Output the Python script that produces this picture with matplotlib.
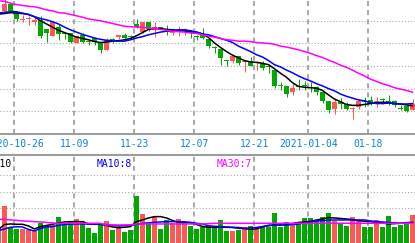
import matplotlib
matplotlib.use('Agg')
import matplotlib.pyplot as plt
import matplotlib.transforms as mtransforms
import numpy as np
import pandas as pd

################################################################################
# data
dates = pd.bdate_range('2020-10-21', '2021-01-27').drop(pd.Timestamp('2021-01-01'))
label_dates = ['2020-10-26', '2020-11-09', '2020-11-23', '2020-12-07',
               '2020-12-21', '2021-01-04', '2021-01-18']

open_ = [12.62, 12.72, 12.87, 12.70, 12.52, 12.54, 12.48, 12.52, 12.32, 12.17,
         12.37, 12.23, 12.22, 12.02, 12.19, 12.05, 12.13, 12.00, 11.85, 12.10,
         12.15, 12.19, 12.15, 12.43, 12.26, 12.48, 12.30, 12.35, 12.26, 12.22,
         12.28, 12.26, 12.27, 12.15, 12.20, 12.09, 11.91, 11.87, 11.63, 11.62,
         11.72, 11.59, 11.60, 11.57, 11.56, 11.49, 11.41, 11.07, 11.06, 10.93,
         11.05, 11.07, 11.04, 11.03, 10.93, 10.73, 10.54, 10.71, 10.67, 10.56,
         10.59, 10.72, 10.75, 10.66, 10.76, 10.73, 10.73, 10.57, 10.62, 10.53]
close = [12.70, 12.87, 12.72, 12.55, 12.54, 12.57, 12.52, 12.17, 12.24, 12.47,
         12.20, 12.21, 12.04, 12.16, 12.04, 12.03, 12.04, 11.85, 12.08, 12.08,
         12.19, 12.11, 12.14, 12.36, 12.48, 12.31, 12.36, 12.33, 12.25, 12.30,
         12.30, 12.32, 12.22, 12.14, 12.11, 11.94, 11.90, 11.67, 11.62, 11.72,
         11.56, 11.60, 11.51, 11.58, 11.46, 11.48, 11.06, 11.06, 10.88, 11.02,
         11.04, 11.06, 11.03, 10.92, 10.73, 10.53, 10.71, 10.66, 10.56, 10.57,
         10.73, 10.71, 10.68, 10.73, 10.75, 10.68, 10.64, 10.56, 10.51, 10.67]
high = [12.75, 13.00, 12.90, 12.72, 12.63, 12.61, 12.59, 12.61, 12.32, 12.48,
        12.44, 12.26, 12.22, 12.19, 12.22, 12.09, 12.15, 12.00, 12.11, 12.13,
        12.19, 12.22, 12.19, 12.55, 12.48, 12.48, 12.48, 12.37, 12.41, 12.33,
        12.39, 12.33, 12.30, 12.19, 12.33, 12.11, 11.94, 11.87, 11.63, 11.76,
        11.72, 11.60, 11.71, 11.60, 11.60, 11.52, 11.44, 11.15, 11.06, 11.15,
        11.21, 11.17, 11.15, 11.06, 10.97, 10.73, 10.79, 10.80, 10.71, 10.59,
        10.76, 10.82, 10.84, 10.82, 10.79, 10.86, 10.75, 10.64, 10.68, 10.76]
low = [12.60, 12.72, 12.70, 12.50, 12.48, 12.41, 12.41, 12.11, 12.04, 12.17,
       12.08, 12.09, 12.02, 12.00, 12.00, 11.96, 11.96, 11.79, 11.85, 12.00,
       12.09, 12.08, 12.09, 12.33, 12.22, 12.28, 12.15, 12.31, 12.19, 12.19,
       12.16, 12.19, 12.11, 12.08, 12.09, 11.89, 11.79, 11.52, 11.51, 11.56,
       11.52, 11.37, 11.49, 11.41, 11.41, 11.35, 11.01, 10.97, 10.81, 10.86,
       10.97, 10.97, 10.93, 10.86, 10.68, 10.46, 10.44, 10.56, 10.53, 10.33,
       10.56, 10.60, 10.64, 10.60, 10.66, 10.64, 10.60, 10.53, 10.49, 10.53]

ma5 = [12.65, 12.66, 12.68, 12.67, 12.66, 12.64, 12.59, 12.50, 12.43, 12.36,
       12.29, 12.24, 12.19, 12.14, 12.11, 12.08, 12.04, 12.02, 12.03, 12.05,
       12.06, 12.08, 12.11, 12.17, 12.24, 12.31, 12.33, 12.33, 12.31, 12.30,
       12.29, 12.27, 12.26, 12.25, 12.21, 12.13, 12.01, 11.91, 11.82, 11.74,
       11.68, 11.62, 11.59, 11.58, 11.56, 11.53, 11.44, 11.34, 11.25, 11.13,
       11.05, 11.03, 11.02, 11.01, 10.96, 10.86, 10.77, 10.71, 10.65, 10.63,
       10.63, 10.65, 10.67, 10.69, 10.70, 10.69, 10.67, 10.66, 10.64, 10.62]
ma10 = [12.67, 12.69, 12.70, 12.70, 12.67, 12.64, 12.59, 12.55, 12.52, 12.48,
        12.43, 12.36, 12.30, 12.25, 12.20, 12.16, 12.12, 12.09, 12.07, 12.06,
        12.05, 12.05, 12.08, 12.12, 12.15, 12.19, 12.22, 12.25, 12.27, 12.28,
        12.30, 12.30, 12.28, 12.25, 12.21, 12.19, 12.15, 12.11, 12.07, 12.02,
        11.94, 11.88, 11.82, 11.75, 11.70, 11.62, 11.53, 11.48, 11.41, 11.35,
        11.28, 11.22, 11.17, 11.11, 11.06, 11.00, 10.95, 10.88, 10.83, 10.79,
        10.75, 10.73, 10.69, 10.67, 10.67, 10.68, 10.67, 10.66, 10.66, 10.67]
ma30 = [12.94, 12.93, 12.89, 12.86, 12.84, 12.82, 12.81, 12.78, 12.74, 12.72,
        12.68, 12.67, 12.64, 12.61, 12.58, 12.54, 12.52, 12.50, 12.47, 12.44,
        12.41, 12.38, 12.37, 12.36, 12.36, 12.34, 12.33, 12.31, 12.29, 12.27,
        12.26, 12.25, 12.23, 12.22, 12.19, 12.16, 12.14, 12.11, 12.08, 12.07,
        12.05, 12.05, 12.04, 12.02, 12.01, 12.00, 11.98, 11.94, 11.92, 11.89,
        11.86, 11.82, 11.78, 11.73, 11.69, 11.63, 11.58, 11.52, 11.47, 11.41,
        11.34, 11.28, 11.21, 11.16, 11.11, 11.07, 11.02, 10.99, 10.96, 10.92]

volume = [1.90, 3.14, 1.86, 1.76, 1.76, 1.70, 1.64, 2.14, 1.94, 2.00,
          2.48, 2.10, 2.20, 2.36, 2.24, 1.82, 1.52, 1.98, 2.24, 1.70,
          1.86, 1.58, 1.70, 3.74, 2.66, 2.10, 2.48, 1.76, 2.30, 2.10,
          2.36, 2.10, 1.94, 1.76, 1.88, 1.94, 1.86, 2.30, 1.64, 1.64,
          1.70, 1.86, 1.94, 1.76, 1.86, 1.86, 2.74, 1.86, 2.18, 2.14,
          2.14, 2.42, 2.42, 2.24, 2.48, 2.74, 2.26, 2.10, 1.94, 2.48,
          2.30, 1.90, 1.90, 2.30, 1.90, 2.54, 1.86, 2.00, 2.06, 2.60]
vol_ma5 = [1.73, 2.03, 2.06, 2.04, 2.04, 1.94, 1.76, 1.90, 1.97, 2.04,
           2.12, 2.18, 2.20, 2.20, 2.20, 2.06, 2.04, 2.04, 1.97, 1.88,
           1.84, 1.86, 1.90, 2.20, 2.30, 2.42, 2.50, 2.50, 2.42, 2.27,
           2.15, 2.14, 2.14, 2.03, 1.91, 1.86, 1.86, 1.86, 1.86, 1.85,
           1.80, 1.78, 1.74, 1.77, 1.88, 1.98, 2.00, 2.00, 2.03, 2.09,
           2.15, 2.18, 2.21, 2.30, 2.36, 2.44, 2.42, 2.39, 2.36, 2.32,
           2.26, 2.22, 2.20, 2.16, 2.12, 2.06, 2.08, 2.10, 2.14, 2.16]
vol_ma10 = [1.66, 1.76, 1.86, 1.89, 1.88, 1.73, 1.64, 1.79, 1.88, 1.90,
            1.97, 2.03, 2.05, 2.06, 2.06, 2.05, 2.05, 2.04, 2.02, 1.98,
            1.94, 1.96, 1.99, 2.03, 2.09, 2.13, 2.16, 2.18, 2.20, 2.20,
            2.20, 2.19, 2.15, 2.10, 2.06, 1.95, 1.92, 1.90, 1.88, 1.86,
            1.85, 1.80, 1.82, 1.85, 1.91, 1.95, 2.00, 2.00, 2.00, 2.02,
            2.06, 2.12, 2.19, 2.24, 2.26, 2.29, 2.30, 2.30, 2.30, 2.30,
            2.30, 2.30, 2.24, 2.20, 2.18, 2.15, 2.13, 2.10, 2.12, 2.14]
vol_ma30 = [2.34, 2.33, 2.30, 2.28, 2.24, 2.22, 2.20, 2.18, 2.15, 2.12,
            2.10, 2.10, 2.10, 2.10, 2.10, 2.10, 2.10, 2.10, 2.00, 2.00,
            2.00, 2.00, 2.00, 2.06, 2.06, 2.06, 2.06, 2.06, 2.06, 2.06,
            2.06, 2.06, 2.06, 2.06, 2.06, 2.08, 2.10, 2.10, 2.10, 2.10,
            2.10, 2.10, 2.10, 2.10, 2.10, 2.10, 2.10, 2.10, 2.10, 2.10,
            2.10, 2.10, 2.10, 2.10, 2.10, 2.10, 2.10, 2.10, 2.10, 2.10,
            2.10, 2.10, 2.10, 2.10, 2.10, 2.10, 2.10, 2.10, 2.10, 2.10]

vol_legend = ['MA5:10', 'MA10:8', 'MA30:7']
################################################################################
RED = '#ff5656'
GREEN = '#00a800'
GRID = '#a9a9a9'
DATE_C = '#0a84d2'
MA_COLORS = ['black', '#0000ff', '#ff00ff']
MONO = 'DejaVu Sans Mono'

o = np.array(open_)
c = np.array(close)
x = np.arange(len(dates))
cols = np.where(c >= o, RED, GREEN)

W, H = 415.0, 243.0
fig = plt.figure(figsize=(W / 100, H / 100), dpi=100)


def px_box(top, bottom):
    return [0, 1 - bottom / H, 1, (bottom - top) / H]


ax = fig.add_axes(px_box(0, 134.3))
axv = fig.add_axes(px_box(154.7, 258.3), sharex=ax)

tick_idx = np.array([dates.get_loc(pd.Timestamp(d)) for d in label_dates])
tick_pos = tick_idx - 0.375
tick_txt = []
prev_year = None
for d in label_dates:
    ts = pd.Timestamp(d)
    tick_txt.append(ts.strftime('%Y-%m-%d') if ts.year != prev_year else ts.strftime('%m-%d'))
    prev_year = ts.year

################################################################################
# price panel
body_h = np.maximum(np.abs(c - o), 0.024)
body_mid = (o + c) / 2
ax.vlines(x, low, high, colors=cols, lw=0.72, zorder=2)
ax.bar(x, body_h, bottom=body_mid - body_h / 2, width=5 / 6, color=cols,
       linewidth=0, zorder=2)
for ma, col in zip([ma5, ma10, ma30], MA_COLORS):
    ax.plot(x, ma, color=col, lw=1.1, zorder=3)

ax.set_xlim(1.5 / 6, (W + 1.5) / 6)
ax.set_ylim(9.99, 12.96)
ax.set_yticks([10.5, 11.0, 11.5, 12.0, 12.5])
ax.set_xticks(tick_pos)
ax.tick_params(length=0, labelbottom=False, labelleft=False)
ax.grid(axis='y', color=GRID, linestyle=(0, (1, 1.8)), linewidth=0.8)
ax.grid(axis='x', color=GRID, linestyle=(0, (2.6, 2.1)), linewidth=1.4)
ax.set_axisbelow(True)
for s in ['top', 'left', 'right']:
    ax.spines[s].set_visible(False)
ax.spines['bottom'].set_color('#9a9a9a')
ax.spines['bottom'].set_linewidth(1.4)

tr = mtransforms.blended_transform_factory(ax.transData, fig.transFigure)
for p, t in zip(tick_pos, tick_txt):
    ax.text(p, 1 - 146.7 / H, t, ha='center', va='baseline', transform=tr,
            fontsize=7, family=MONO, color=DATE_C, clip_on=False)

################################################################################
# volume panel
axv.bar(x, volume, width=5 / 6, color=cols, linewidth=0, zorder=2)
for ma, col in zip([vol_ma5, vol_ma10, vol_ma30], MA_COLORS):
    axv.plot(x, ma, color=col, lw=1.1, zorder=3)
axv.set_ylim(0, (258.3 - 154.7) / 16.67)
axv.set_yticks([3, 4, 5])
axv.tick_params(length=0, labelbottom=False, labelleft=False)
axv.grid(axis='y', color=GRID, linestyle=(0, (1, 1.8)), linewidth=0.8)
axv.grid(axis='x', color=GRID, linestyle=(0, (2.6, 2.1)), linewidth=1.4)
axv.set_axisbelow(True)
for s in ['bottom', 'left', 'right']:
    axv.spines[s].set_visible(False)
axv.spines['top'].set_color('#9a9a9a')
axv.spines['top'].set_linewidth(1.4)

for k, (t, col) in enumerate(zip(vol_legend, MA_COLORS)):
    fig.text((-23.3 + 120 * k) / W, 1 - 166.7 / H, t, ha='left', va='baseline',
             fontsize=7, family=MONO, color=col)

fig.savefig('out.png', dpi=100)
